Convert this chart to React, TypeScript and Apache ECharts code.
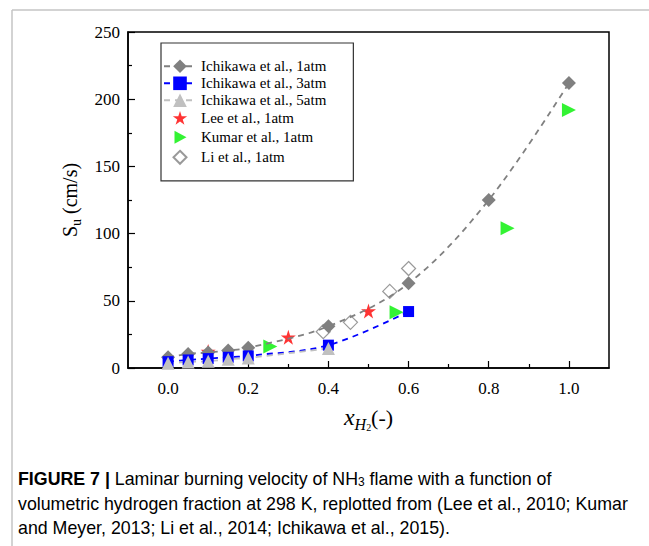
import React, { useEffect, useRef } from "react";
import * as echarts from "echarts";

const xMajor = [0, 0.2, 0.4, 0.6, 0.8, 1.0];
const xMinor = [0.1, 0.3, 0.5, 0.7, 0.9];

const ichikawa1atm: [number, number][] = [
  [0, 8], [0.05, 10.5], [0.1, 11.5], [0.15, 13], [0.2, 15], [0.4, 31], [0.6, 63], [0.8, 125], [1.0, 212],
];
const ichikawa3atm: [number, number][] = [
  [0, 4.7], [0.05, 6], [0.1, 7], [0.15, 8], [0.2, 9], [0.4, 17], [0.6, 42],
];
const ichikawa5atm: [number, number][] = [
  [0, 3.5], [0.05, 4.5], [0.1, 5], [0.15, 6.5], [0.2, 7.5], [0.4, 14.6],
];
const lee1atm: [number, number][] = [[0.1, 12.2], [0.3, 22.8], [0.5, 42.4]];
const kumar1atm: [number, number][] = [[0.255, 16], [0.57, 41.5], [0.847, 104], [1.0, 192]];
const li1atm: [number, number][] = [[0.387, 27], [0.455, 34], [0.553, 57], [0.6, 74]];

const seriesNames = [
  "Ichikawa et al., 1atm",
  "Ichikawa et al., 3atm",
  "Ichikawa et al., 5atm",
  "Lee et al., 1atm",
  "Kumar et al., 1atm",
  "Li et al., 1atm",
];

const SERIF = "'Liberation Serif', 'Times New Roman', serif";
const SANS = "'Liberation Sans', Arial, sans-serif";

const STAR = "M12,0 L14.8,8.6 L23.8,8.6 L16.5,13.9 L19.3,22.5 L12,17.2 L4.7,22.5 L7.5,13.9 L0.2,8.6 L9.2,8.6 Z";
const LEG_STAR = "path://M-2,-2 M26,26 " + STAR;
const LEG_RTRI = "path://M0,0 M17,17 M3,2 L15,8.5 L3,15 Z";
const LEG_DIAM = "path://M0,0 M17,17 M8.5,2 L15,8.5 L8.5,15 L2,8.5 Z";

export default function App() {
  const ref = useRef<HTMLDivElement>(null);
  useEffect(() => {
    if (!ref.current) return;
    const chart = echarts.init(ref.current, null, { renderer: "svg" });
    const dash = [6, 5];
    const capDark = "#303030";
    const capGray = "#8a8a8a";
    const FS = 17.8;
    const capRich = {
      b: { fontFamily: SANS, fontSize: FS, fontWeight: "bold", color: "#111" },
      d: { fontFamily: SANS, fontSize: FS, color: capDark },
      g: { fontFamily: SANS, fontSize: FS, color: capGray },
      sub: { fontFamily: SANS, fontSize: 12, color: capDark, verticalAlign: "bottom", lineHeight: 10 },
    };
    chart.setOption({
      animation: false,
      backgroundColor: "#fff",
      grid: {
        left: 128, right: 40, top: 32, bottom: 178,
        show: true, borderColor: "#000", borderWidth: 1.5,
      },
      legend: {
        orient: "vertical",
        left: 161,
        top: 43,
        padding: [15.8, 27, 14, 2],
        itemWidth: 32,
        itemHeight: 17,
        itemGap: 2.0,
        borderColor: "#333",
        borderWidth: 1.2,
        backgroundColor: "#fff",
        data: [
          { name: seriesNames[0] },
          { name: seriesNames[1] },
          { name: seriesNames[2] },
          { name: seriesNames[3], icon: LEG_STAR },
          { name: seriesNames[4], icon: LEG_RTRI },
          { name: seriesNames[5], icon: LEG_DIAM },
        ],
        textStyle: { fontFamily: SERIF, fontSize: 15, color: "#000" },
      },
      xAxis: [
        {
          type: "value",
          min: -0.1,
          max: 1.1,
          name: "{i|x}{sub|H}{sub2|2}{n|(-)}",
          nameLocation: "middle",
          nameGap: 34,
          nameTextStyle: {
            rich: {
              i: { fontFamily: SERIF, fontStyle: "italic", fontSize: 24, lineHeight: 30, verticalAlign: "middle" },
              sub: { fontFamily: SERIF, fontStyle: "italic", fontSize: 16, lineHeight: 14, verticalAlign: "bottom" },
              sub2: { fontFamily: SERIF, fontSize: 10, lineHeight: 6, verticalAlign: "bottom" },
              n: { fontFamily: SERIF, fontSize: 22, lineHeight: 30, verticalAlign: "middle" },
            },
          },
          axisLine: { show: true, onZero: false, lineStyle: { color: "#000", width: 1.5 } },
          axisTick: { show: true, inside: true, length: 7, customValues: xMajor, lineStyle: { color: "#000", width: 1.2 } },
          axisLabel: {
            customValues: xMajor,
            formatter: (v: number) => v.toFixed(1),
            margin: 12,
            fontFamily: SERIF,
            fontSize: 17,
            color: "#000",
          },
          splitLine: { show: false },
        },
        {
          type: "value",
          min: -0.1,
          max: 1.1,
          position: "bottom",
          axisLine: { show: false, onZero: false },
          axisTick: { show: true, inside: true, length: 4, customValues: xMinor, lineStyle: { color: "#000", width: 1.2 } },
          axisLabel: { show: false },
          splitLine: { show: false },
        },
      ],
      yAxis: {
        type: "value",
        min: 0,
        max: 250,
        interval: 50,
        name: "{s|S}{sub|u}{s| (cm/s)}",
        nameLocation: "middle",
        nameGap: 32,
        nameRotate: 90,
        nameTextStyle: {
          rich: {
            s: { fontFamily: SERIF, fontSize: 20, lineHeight: 28, verticalAlign: "middle" },
            sub: { fontFamily: SERIF, fontSize: 14, lineHeight: 12, verticalAlign: "bottom" },
          },
        },
        axisLine: { show: true, onZero: false, lineStyle: { color: "#000", width: 1.5 } },
        axisTick: { show: true, inside: true, length: 7, lineStyle: { color: "#000", width: 1.2 } },
        minorTick: { show: true, splitNumber: 2, length: 4, lineStyle: { color: "#000", width: 1.2 } },
        axisLabel: { margin: 8, fontFamily: SERIF, fontSize: 17, color: "#000" },
        splitLine: { show: false },
        minorSplitLine: { show: false },
      },
      series: [
        {
          name: seriesNames[0],
          type: "line",
          smooth: 0.35,
          data: ichikawa1atm,
          symbol: "diamond",
          symbolSize: 14,
          itemStyle: { color: "#808080" },
          lineStyle: { color: "#808080", width: 1.8, type: dash },
        },
        {
          name: seriesNames[1],
          type: "line",
          smooth: 0.35,
          data: ichikawa3atm,
          symbol: "rect",
          symbolSize: 11,
          itemStyle: { color: "#0000ff" },
          lineStyle: { color: "#0000ff", width: 1.8, type: dash },
        },
        {
          name: seriesNames[2],
          type: "line",
          smooth: 0.35,
          data: ichikawa5atm,
          symbol: "triangle",
          symbolSize: 13,
          itemStyle: { color: "#c0c0c0" },
          lineStyle: { color: "#c0c0c0", width: 1.8, type: dash },
        },
        {
          name: seriesNames[3],
          type: "scatter",
          data: lee1atm,
          symbol: "path://" + STAR,
          symbolSize: 15,
          itemStyle: { color: "#ff0000" },
        },
        {
          name: seriesNames[4],
          type: "scatter",
          data: kumar1atm,
          symbol: "triangle",
          symbolRotate: -90,
          symbolSize: 14,
          itemStyle: { color: "#00f000" },
        },
        {
          name: seriesNames[5],
          type: "scatter",
          data: li1atm,
          symbol: "diamond",
          symbolSize: 14,
          itemStyle: { color: "#ffffff", borderColor: "#808080", borderWidth: 1.2 },
        },
      ],
      graphic: [
        { type: "line", shape: { x1: 12, y1: 10, x2: 649, y2: 10 }, style: { stroke: "#c4c4c4", lineWidth: 1.5 } },
        { type: "line", shape: { x1: 12, y1: 10, x2: 12, y2: 546 }, style: { stroke: "#c4c4c4", lineWidth: 1.5 } },
        {
          type: "text",
          left: 18,
          top: 470,
          style: {
            text: "{b|FIGURE 7 |}{d| Laminar burning velocity of NH}{sub|3}{d| flame with a function of}",
            rich: capRich,
          },
        },
        {
          type: "text",
          left: 18,
          top: 494.5,
          style: {
            text: "{d|volumetric hydrogen fraction at 298 K, replotted from (}{g|Lee et al., 2010}{d|; }{g|Kumar}",
            rich: capRich,
          },
        },
        {
          type: "text",
          left: 18,
          top: 519,
          style: {
            text: "{g|and Meyer, 2013}{d|; }{g|Li et al., 2014}{d|; }{g|Ichikawa et al., 2015}{d|).}",
            rich: capRich,
          },
        },
      ],
    });
    return () => chart.dispose();
  }, []);
  return (
    <div style={{ position: "fixed", left: 0, top: 0, width: 649, height: 546, background: "#fff" }}>
      <div ref={ref} style={{ width: 649, height: 546 }} />
    </div>
  );
}
